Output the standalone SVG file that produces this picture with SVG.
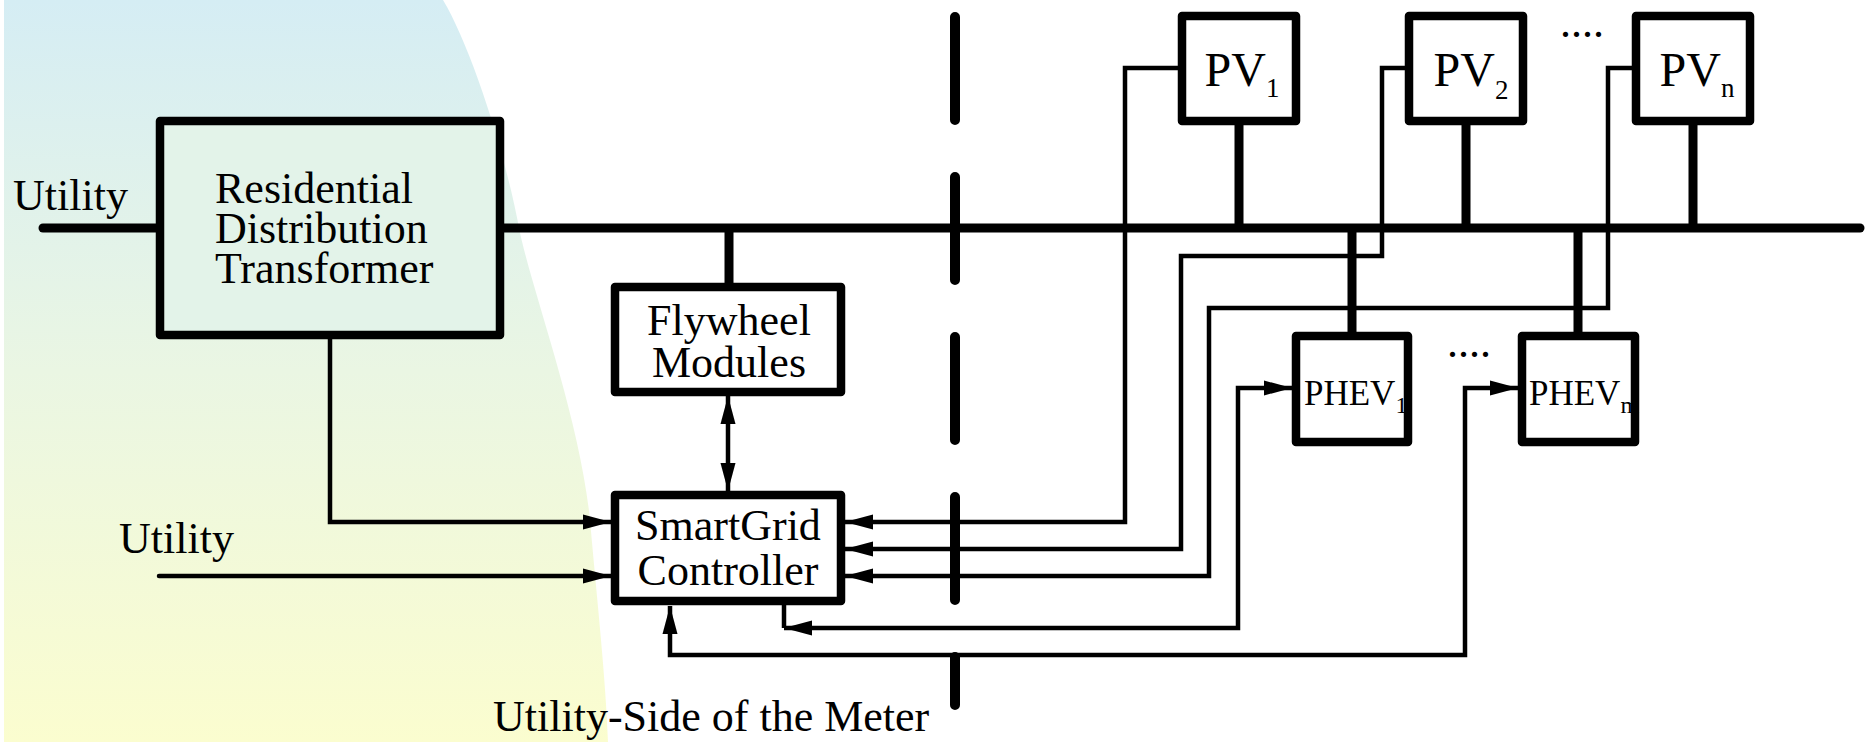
<svg xmlns="http://www.w3.org/2000/svg" width="1870" height="742" viewBox="0 0 1870 742">
<defs>
<linearGradient id="bg" x1="0" y1="0" x2="0" y2="1">
<stop offset="0" stop-color="#d5edf4"/>
<stop offset="0.5" stop-color="#eaf6e3"/>
<stop offset="1" stop-color="#fbfdcf"/>
</linearGradient>
<marker id="ah" markerUnits="userSpaceOnUse" markerWidth="30" markerHeight="16" refX="28" refY="7.5" orient="auto-start-reverse" viewBox="0 0 30 15">
<path d="M0,0 L28,7.5 L0,15 Z" fill="#000"/>
</marker>
<style>
.box{fill:#fff;stroke:#000;stroke-width:8.5;stroke-linejoin:round}
.bus{fill:none;stroke:#000;stroke-width:9;stroke-linecap:round}
.tap{fill:none;stroke:#000;stroke-width:9}
.sig{fill:none;stroke:#000;stroke-width:4.5;stroke-linejoin:miter}
.arr{marker-end:url(#ah)}
.arr2{marker-start:url(#ah);marker-end:url(#ah)}
.t{font-family:"Liberation Serif","Times New Roman",serif;font-size:44px;fill:#000}
.pv{font-family:"Liberation Serif","Times New Roman",serif;font-size:48px;fill:#000}
.ts{font-family:"Liberation Serif","Times New Roman",serif;font-size:35px;fill:#000}
</style>
</defs>
<path d="M4,0 L443,0 C470,45 505,150 520,233 C535,300 580,420 590,520 C597,600 606,680 608,742 L4,742 Z" fill="url(#bg)"/>

<g id="connectors">
<path class="bus" d="M43,228 H158"/>
<path class="bus" d="M502,228 H1860"/>
<path class="tap" d="M729,228 V285"/>
<path class="tap" d="M1239,123 V228"/>
<path class="tap" d="M1466,123 V228"/>
<path class="tap" d="M1693,123 V228"/>
<path class="tap" d="M1352,228 V334"/>
<path class="tap" d="M1578,228 V334"/>
<path class="sig arr" d="M330,339 V522 H611"/>
<path class="sig arr" d="M159,576 H611" stroke-linecap="round"/>
<path class="sig arr2" d="M728,396 V491"/>
<path class="sig arr" d="M1178,68 H1125 V522 H845"/>
<path class="sig arr" d="M1405,68 H1382 V256 H1181 V549 H845"/>
<path class="sig arr" d="M1632,68 H1608 V308 H1209 V576 H845"/>
<path class="sig" d="M784,604 V628"/>
<path class="sig arr2" d="M784,628 H1238 V388 H1292"/>
<path class="sig arr2" d="M670,606 V655 H1465 V388 H1518"/>
<path d="M955,17 V705" fill="none" stroke="#000" stroke-width="10" stroke-linecap="round" stroke-dasharray="103 57"/>
</g>

<g id="transformer">
<rect class="box" x="160" y="121" width="340" height="214" style="fill:#e3f3e9"/>
<text class="t" x="215" y="203">Residential</text>
<text class="t" x="215" y="243">Distribution</text>
<text class="t" x="215" y="283">Transformer</text>
</g>
<g id="utility-top"><text class="t" x="13" y="210">Utility</text></g>
<g id="utility-bottom"><text class="t" x="119" y="553">Utility</text></g>

<g id="flywheel">
<rect class="box" x="615" y="287" width="226" height="105"/>
<text class="t" x="729" y="335" text-anchor="middle">Flywheel</text>
<text class="t" x="729" y="377" text-anchor="middle">Modules</text>
</g>

<g id="smartgrid">
<rect class="box" x="615" y="495" width="226" height="106"/>
<text class="t" x="728" y="540" text-anchor="middle">SmartGrid</text>
<text class="t" x="728" y="585" text-anchor="middle">Controller</text>
</g>

<g id="pv1">
<rect class="box" x="1182" y="16" width="114" height="105"/>
<text class="pv" x="1242" y="86" text-anchor="middle">PV<tspan font-size="27" dy="11">1</tspan></text>
</g>
<g id="pv2">
<rect class="box" x="1409" y="16" width="114" height="105"/>
<text class="pv" x="1471" y="86" text-anchor="middle">PV<tspan font-size="27" dy="13">2</tspan></text>
</g>
<g id="pvn">
<rect class="box" x="1636" y="16" width="114" height="105"/>
<text class="pv" x="1697" y="86" text-anchor="middle">PV<tspan font-size="27" dy="11">n</tspan></text>
</g>
<g id="pv-dots"><text class="t" x="1560" y="37">....</text></g>

<g id="phev1">
<rect class="box" x="1296" y="336" width="112" height="106"/>
<text class="ts" x="1304" y="405">PHEV<tspan font-size="24" dy="8">1</tspan></text>
</g>
<g id="phevm">
<rect class="box" x="1522" y="336" width="113" height="106"/>
<text class="ts" x="1529" y="405">PHEV<tspan font-size="24" dy="8">m</tspan></text>
</g>
<g id="phev-dots"><text class="t" x="1447" y="357">....</text></g>

<g id="meter-label"><text class="t" x="493" y="731">Utility-Side of the Meter</text></g>
</svg>
